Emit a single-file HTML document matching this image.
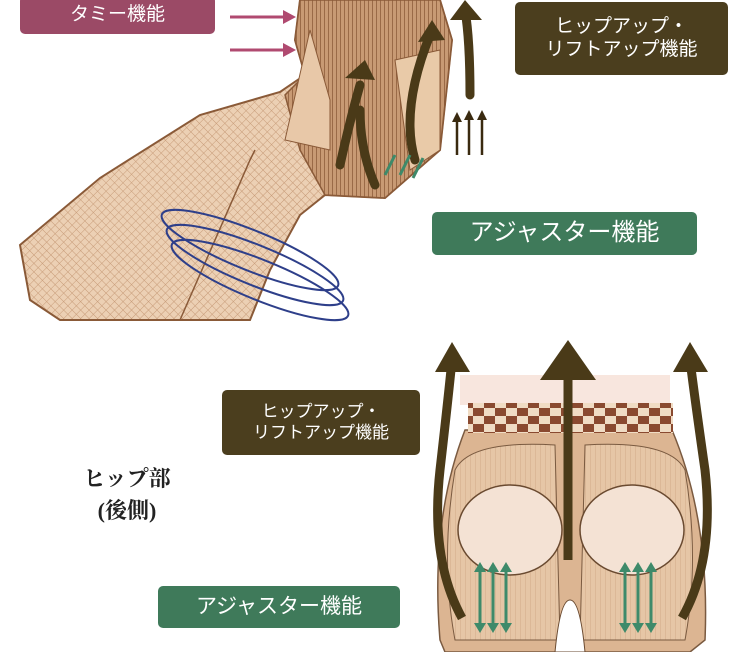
<!DOCTYPE html>
<html><head><meta charset="utf-8"><style>
html,body{margin:0;padding:0;background:#fff;}
body{width:749px;height:652px;position:relative;overflow:hidden;font-family:"Liberation Sans","Noto Sans CJK JP",sans-serif;}
.lab{position:absolute;color:#fff;border-radius:5px;display:flex;align-items:center;justify-content:center;text-align:center;line-height:1.2;}
</style></head><body>
<svg width="749" height="652" style="position:absolute;left:0;top:0">
<defs>
<pattern id="mesh" width="6" height="6" patternUnits="userSpaceOnUse" patternTransform="rotate(45)">
<rect width="6" height="6" fill="#ecd0b4"/><path d="M0 0H6M0 0V6" stroke="#c79b78" stroke-width="1"/></pattern>
<pattern id="vl" width="4" height="4" patternUnits="userSpaceOnUse"><rect width="4" height="4" fill="#c89a74"/><path d="M0 0V4" stroke="#8a5a38" stroke-width="1.5"/></pattern>
<pattern id="vl2" width="5" height="5" patternUnits="userSpaceOnUse"><rect width="5" height="5" fill="#e6c6a6"/><path d="M0 0V5" stroke="#d9b392" stroke-width="1.5"/></pattern>
<pattern id="chk" width="22" height="16" patternUnits="userSpaceOnUse"><rect width="22" height="16" fill="#f0dcc4"/><rect width="11" height="8" fill="#8a4a30"/><rect x="11" y="8" width="11" height="8" fill="#8a4a30"/></pattern>
</defs>
<!-- top leg -->
<path d="M20 245 L30 300 L60 320 L250 320 L270 270 L300 215 L325 195 L385 198 L440 150 L452 40 L440 0 L300 0 L295 40 L305 75 L280 92 L200 115 L100 178 Z" fill="url(#mesh)" stroke="#8a5a38" stroke-width="2"/>
<path d="M300 0 L440 0 L452 40 L440 150 L385 198 L325 195 L300 150 L285 95 L305 75 L295 40Z" fill="url(#vl)" stroke="#8a5a38" stroke-width="1.5"/>
<path d="M310 30 L330 100 L330 150 L285 140 Z" fill="#e8c8a8" stroke="#8a5a38"/>
<path d="M395 60 L440 50 L440 150 L410 170 Z" fill="#e9caa8" stroke="#8a5a38"/>
<path d="M180 320 L250 160 L255 150" fill="none" stroke="#8a5a38" stroke-width="1.5"/>
<g fill="none" stroke="#2e3f8a" stroke-width="2">
<ellipse cx="250" cy="250" rx="95" ry="20" transform="rotate(22 250 250)"/>
<ellipse cx="255" cy="265" rx="95" ry="20" transform="rotate(22 255 265)"/>
<ellipse cx="260" cy="280" rx="95" ry="20" transform="rotate(22 260 280)"/>
</g>
<!-- top arrows -->
<g stroke="#4a3a18" stroke-width="9" fill="none" stroke-linecap="round">
<path d="M340 165 Q350 120 360 85"/><path d="M375 185 Q360 150 360 110"/><path d="M415 160 Q400 110 430 35"/>
<path d="M470 95 Q470 40 465 10"/>
</g>
<g fill="#4a3a18">
<polygon points="345,78 375,80 365,60"/><polygon points="418,42 445,40 432,20"/><polygon points="450,20 482,20 465,0"/>
</g>
<g stroke="#3a2a10" stroke-width="2.5"><path d="M457 155V120M469 155V118M482 155V118"/></g>
<g fill="#3a2a10"><polygon points="452,122 462,122 457,112"/><polygon points="464,120 474,120 469,110"/><polygon points="477,120 487,120 482,110"/></g>
<g stroke="#b04a70" stroke-width="3"><path d="M230 17H285M230 50H285"/></g>
<g fill="#b04a70"><polygon points="283,10 296,17 283,24"/><polygon points="283,43 296,50 283,57"/></g>
<g stroke="#3e8a6a" stroke-width="3"><path d="M385 175L395 155M400 175L410 155M413 178L423 158"/></g>
<!-- bottom butt -->
<rect x="460" y="375" width="210" height="30" fill="#f5dcd0" opacity="0.7"/>
<path d="M440 640 Q430 520 465 430 L672 430 Q710 520 705 640 L690 652 L445 652Z" fill="#dcb592" stroke="#7a5a40" stroke-width="1.5"/>
<rect x="468" y="403" width="205" height="30" fill="url(#chk)"/>
<path d="M455 470 Q470 440 555 445 L560 640 L455 640 Q440 560 455 470Z" fill="url(#vl2)" stroke="#7a5a40"/>
<path d="M685 470 Q670 440 585 445 L580 640 L685 640 Q700 560 685 470Z" fill="url(#vl2)" stroke="#7a5a40"/>
<ellipse cx="510" cy="530" rx="52" ry="45" fill="#f4e2d4" stroke="#6a4a30" stroke-width="1.5"/>
<ellipse cx="632" cy="530" rx="52" ry="45" fill="#f4e2d4" stroke="#6a4a30" stroke-width="1.5"/>
<path d="M555 652 Q560 600 570 600 Q580 600 585 652Z" fill="#fff" stroke="#6a4a30"/>
<g stroke="#4a3a18" stroke-width="9" fill="none">
<path d="M462 618 Q430 560 440 470 Q448 400 452 360"/>
<path d="M682 618 Q715 560 705 470 Q695 400 690 360"/>
<path d="M568 560 V370"/>
</g>
<g fill="#4a3a18"><polygon points="435,372 470,372 452,342"/><polygon points="673,372 708,372 690,342"/><polygon points="540,380 596,380 568,340"/></g>
<g stroke="#3e8a6a" stroke-width="3" fill="none">
<path d="M480 570V625M493 570V625M506 570V625M625 570V625M638 570V625M651 570V625"/>
</g>
<g fill="#3e8a6a">
<polygon points="474,572 486,572 480,562"/><polygon points="487,572 499,572 493,562"/><polygon points="500,572 512,572 506,562"/>
<polygon points="474,623 486,623 480,633"/><polygon points="487,623 499,623 493,633"/><polygon points="500,623 512,623 506,633"/>
<polygon points="619,572 631,572 625,562"/><polygon points="632,572 644,572 638,562"/><polygon points="645,572 657,572 651,562"/>
<polygon points="619,623 631,623 625,633"/><polygon points="632,623 644,623 638,633"/><polygon points="645,623 657,623 651,633"/>
</g>
</svg>
<div class="lab" style="left:20px;top:-4px;width:195px;height:38px;background:#9b4a66;font-size:19px;">タミー機能</div>
<div class="lab" style="left:515px;top:2px;width:213px;height:73px;background:#4b3e1e;font-size:19px;">ヒップアップ・<br>リフトアップ機能</div>
<div class="lab" style="left:432px;top:212px;width:265px;height:43px;background:#3f7a5a;font-size:24px;">アジャスター機能</div>
<div class="lab" style="left:222px;top:390px;width:198px;height:65px;background:#4b3e1e;font-size:17px;">ヒップアップ・<br>リフトアップ機能</div>
<div class="lab" style="left:158px;top:586px;width:242px;height:42px;background:#3f7a5a;font-size:21px;">アジャスター機能</div>
<div style="position:absolute;left:62px;top:463px;width:130px;text-align:center;font-family:'Liberation Serif','Noto Serif CJK SC',serif;font-weight:bold;font-size:22px;line-height:32px;color:#222;">ヒップ部<br>(後側)</div>
</body></html>
